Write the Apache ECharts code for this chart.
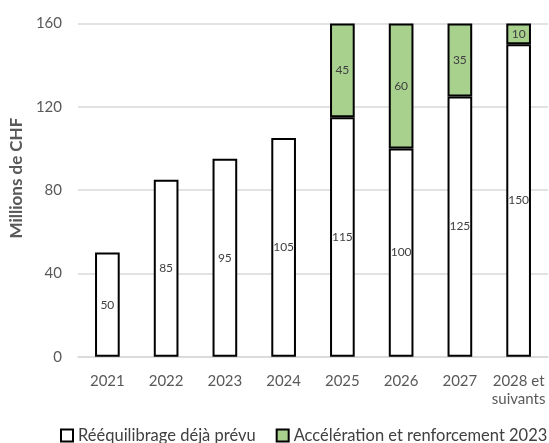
<!DOCTYPE html>
<html><head><meta charset="utf-8">
<script src="https://cdn.jsdelivr.net/npm/echarts@6/dist/echarts.min.js"></script>
<style>html,body{margin:0;padding:0;background:#fff}#c{width:549px;height:443px}</style>
</head><body><div id="c"></div>
<script>
const categories = ['2021','2022','2023','2024','2025','2026','2027','2028 et\nsuivants'];
const prevu = [50,85,95,105,115,100,125,150];
const acceleration = [null,null,null,null,45,60,35,10];
const yTicks = [0,40,80,120,160];
const seriesNames = ['Rééquilibrage déjà prévu','Accélération et renforcement 2023'];

const font = 'Lato, "Open Sans", sans-serif';
const chart = echarts.init(document.getElementById('c'));
const lbl = {show:true, position:'inside', color:'#404040', fontSize:12, fontFamily:font};
chart.setOption({
  animation:false,
  grid:{left:76, right:1, top:23.5, bottom:86.3},
  legend:{top:427, left:60, padding:0, icon:'rect', itemWidth:12, itemHeight:12, itemGap:20,
    textStyle:{color:'#404040', fontSize:16.5, fontFamily:font},
    data:seriesNames},
  xAxis:{type:'category', data:categories,
    axisLine:{lineStyle:{color:'#d9d9d9', width:1.5}}, axisTick:{show:false},
    axisLabel:{interval:0, color:'#595959', fontSize:15, fontFamily:font, margin:15, lineHeight:18}},
  yAxis:{type:'value', min:yTicks[0], max:yTicks[yTicks.length-1], interval:40,
    name:'Millions de CHF', nameLocation:'middle', nameGap:33,
    nameTextStyle:{color:'#595959', fontSize:17, fontWeight:'bold', fontFamily:font, padding:[0,0,0,24]},
    axisLabel:{color:'#595959', fontSize:15, fontFamily:font, margin:16},
    splitLine:{lineStyle:{color:'#d9d9d9', width:1.5}}},
  series:[
    {name:seriesNames[0], type:'bar', stack:'t', data:prevu, barWidth:'42%',
     itemStyle:{color:'#ffffff', borderColor:'#000', borderWidth:2}, label:lbl},
    {name:seriesNames[1], type:'bar', stack:'t', data:acceleration, barWidth:'42%',
     itemStyle:{color:'#a9d18e', borderColor:'#000', borderWidth:2}, label:lbl}
  ]
});
</script></body></html>
